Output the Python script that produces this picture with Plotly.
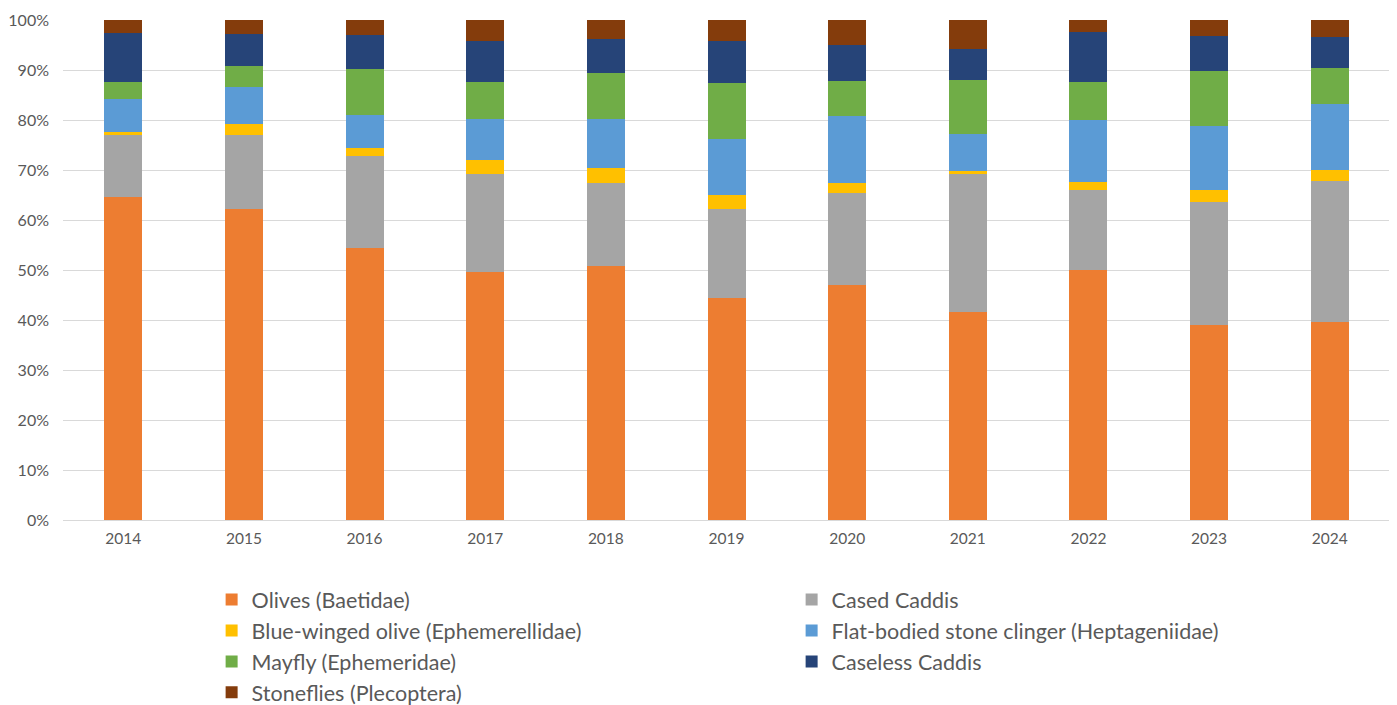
import plotly.graph_objects as go

years = ["2014", "2015", "2016", "2017", "2018", "2019", "2020", "2021", "2022", "2023", "2024"]

olives = [64.6, 62.2, 54.5, 49.7, 50.9, 44.5, 47.1, 41.7, 50.0, 39.1, 39.6]
cased_caddis = [12.4, 14.9, 18.4, 19.6, 16.6, 17.7, 18.4, 27.6, 16.0, 24.5, 28.3]
blue_winged = [0.7, 2.2, 1.6, 2.7, 2.9, 2.9, 2.0, 0.5, 1.6, 2.4, 2.1]
flat_bodied = [6.5, 7.4, 6.6, 8.2, 9.9, 11.1, 13.4, 7.5, 12.5, 12.9, 13.3]
mayfly = [3.5, 4.1, 9.2, 7.5, 9.2, 11.3, 7.0, 10.7, 7.6, 11.0, 7.2]
caseless_caddis = [9.8, 6.4, 6.7, 8.2, 6.8, 8.4, 7.1, 6.3, 10.0, 6.9, 6.1]
stoneflies = [2.5, 2.8, 3.0, 4.1, 3.7, 4.1, 5.1, 5.7, 2.3, 3.3, 3.4]

series = [
    ("Olives (Baetidae)", olives, "#ED7D31"),
    ("Cased Caddis", cased_caddis, "#A5A5A5"),
    ("Blue-winged olive (Ephemerellidae)", blue_winged, "#FFC000"),
    ("Flat-bodied stone clinger (Heptageniidae)", flat_bodied, "#5B9BD5"),
    ("Mayfly (Ephemeridae)", mayfly, "#70AD47"),
    ("Caseless Caddis", caseless_caddis, "#264478"),
    ("Stoneflies (Plecoptera)", stoneflies, "#843C0C"),
]

fig = go.Figure()
for name, vals, col in series:
    fig.add_trace(go.Bar(x=years, y=vals, name=name, marker=dict(color=col, line=dict(width=0))))

fig.update_layout(
    barmode="stack",
    barnorm="percent",
    bargap=0.685,
    width=1389,
    height=697,
    plot_bgcolor="white",
    paper_bgcolor="white",
    font=dict(family="Lato, Open Sans, sans-serif", color="#595959", size=15.5),
    margin=dict(l=55, r=7, t=12, b=185, autoexpand=False),
    xaxis=dict(showgrid=False, showline=True, linecolor="#d9d9d9", linewidth=1,
               ticks="", tickfont=dict(size=15.5), ticklabelstandoff=4),
    yaxis=dict(range=[0, 100], dtick=10, ticksuffix="%", showgrid=True,
               gridcolor="#d9d9d9", gridwidth=1, zeroline=False, tickfont=dict(size=16),
               ticklabelstandoff=13),
    legend=dict(orientation="h", x=0.112, xanchor="left", y=-0.118, yanchor="top",
                entrywidth=535, entrywidthmode="pixels", traceorder="normal",
                itemwidth=30, font=dict(size=21.5, color="#595959")),
)

fig.write_html("out.html")
